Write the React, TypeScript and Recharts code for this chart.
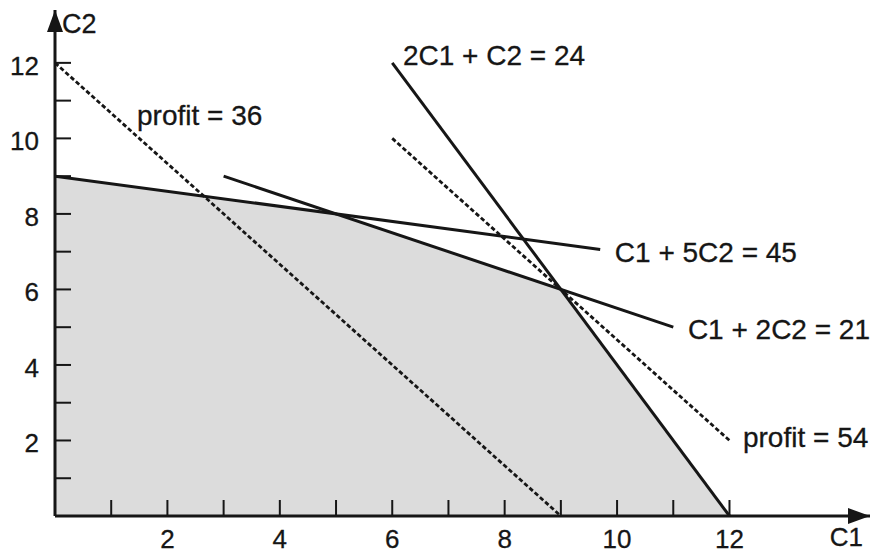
import React from 'react';
import { ComposedChart, Line, Area, XAxis, YAxis, ReferenceDot } from 'recharts';

// Feasible region upper boundary (C1, C2)
const feasibleRegion = [
  { c1: 0, c2: 9 },
  { c1: 5, c2: 8 },
  { c1: 9, c2: 6 },
  { c1: 12, c2: 0 },
];

// Constraint lines
const lineC1plus5C2 = [
  { c1: 0, c2: 9 },
  { c1: 9.7, c2: 7.06 },
];
const lineC1plus2C2 = [
  { c1: 3, c2: 9 },
  { c1: 11, c2: 5 },
];
const line2C1plusC2 = [
  { c1: 6, c2: 12 },
  { c1: 12, c2: 0 },
];

// Iso-profit lines
const profit36 = [
  { c1: 0, c2: 12 },
  { c1: 9, c2: 0 },
];
const profit54 = [
  { c1: 6, c2: 10 },
  { c1: 12, c2: 2 },
];

// Annotations (data coordinates of the left/middle of each text)
const annotations = [
  { text: '2C1 + C2 = 24', c1: 6.19, c2: 12.2 },
  { text: 'profit = 36', c1: 1.46, c2: 10.62 },
  { text: 'C1 + 5C2 = 45', c1: 9.96, c2: 6.99 },
  { text: 'C1 + 2C2 = 21', c1: 11.26, c2: 4.95 },
  { text: 'profit = 54', c1: 12.24, c2: 2.09 },
];

const xTicks = [1, 2, 3, 4, 5, 6, 7, 8, 9, 10, 11, 12];
const yTicks = [1, 2, 3, 4, 5, 6, 7, 8, 9, 10, 11, 12];

const INK = '#161616';
const FONT = '"Liberation Sans", Arial, Helvetica, sans-serif';

const XTick = (props: any) => {
  const { x, y, payload } = props;
  const v = payload.value;
  return (
    <g>
      <line x1={x} y1={y} x2={x} y2={y - 16} stroke={INK} strokeWidth={2} />
      {v % 2 === 0 && (
        <text x={x} y={y + 32} textAnchor="middle" fontSize={26} fontFamily={FONT} fill={INK} stroke={INK} strokeWidth={0.3}>
          {v}
        </text>
      )}
    </g>
  );
};

const YTick = (props: any) => {
  const { x, y, payload } = props;
  const v = payload.value;
  return (
    <g>
      <line x1={x} y1={y} x2={x + 16} y2={y} stroke={INK} strokeWidth={2} />
      {v % 2 === 0 && (
        <text x={x - 16} y={y + 12} textAnchor="end" fontSize={26} fontFamily={FONT} fill={INK} stroke={INK} strokeWidth={0.3}>
          {v}
        </text>
      )}
    </g>
  );
};

const AnnotationLabel = (text: string) => (props: any) => {
  const vb = props.viewBox || {};
  const cx = (vb.x ?? 0) + (vb.width ?? 0) / 2;
  const cy = (vb.y ?? 0) + (vb.height ?? 0) / 2;
  return (
    <text x={cx} y={cy + 10} textAnchor="start" fontSize={28} fontFamily={FONT} fill={INK} stroke={INK} strokeWidth={0.3}>
      {text}
    </text>
  );
};

const XAxisLabel = (props: any) => {
  const vb = props.viewBox || {};
  return (
    <text x={vb.x + vb.width - 7} y={vb.y + 30} textAnchor="end" fontSize={26} fontFamily={FONT} fill={INK} stroke={INK} strokeWidth={0.3}>
      C1
    </text>
  );
};

const YAxisLabel = (props: any) => {
  const vb = props.viewBox || {};
  return (
    <text x={vb.x + vb.width + 7} y={vb.y + 23} textAnchor="start" fontSize={27} fontFamily={FONT} fill={INK} stroke={INK} strokeWidth={0.3}>
      C2
    </text>
  );
};

export default function App() {
  return (
    <div style={{ position: 'absolute', left: 0, top: 0, width: 871, height: 554, background: '#fff' }}>
      <svg width={0} height={0} style={{ position: 'absolute' }}>
        <defs>
          <marker
            id="axisArrow"
            viewBox="0 0 22 16"
            refX="22"
            refY="8"
            markerWidth="22"
            markerHeight="16"
            markerUnits="userSpaceOnUse"
            orient="auto-start-reverse"
          >
            <path d="M0,0 L22,8 L0,16 Z" fill={INK} />
          </marker>
        </defs>
      </svg>
      <ComposedChart width={871} height={554} margin={{ top: 10, right: 1, left: 0, bottom: 0 }}>
        <XAxis
          type="number"
          dataKey="c1"
          domain={[0, 14.5]}
          ticks={xTicks}
          interval={0}
          allowDataOverflow
          height={38}
          tickSize={0}
          tickMargin={0}
          tickLine={false}
          tick={XTick}
          axisLine={{ stroke: INK, strokeWidth: 3, markerEnd: 'url(#axisArrow)' } as any}
          label={{ content: XAxisLabel } as any}
        />
        <YAxis
          type="number"
          dataKey="c2"
          domain={[0, 13.4]}
          ticks={yTicks}
          interval={0}
          allowDataOverflow
          width={55}
          tickSize={0}
          tickMargin={0}
          tickLine={false}
          tick={YTick}
          axisLine={{ stroke: INK, strokeWidth: 3, markerStart: 'url(#axisArrow)' } as any}
          label={{ content: YAxisLabel } as any}
        />
        <Area
          data={feasibleRegion}
          dataKey="c2"
          type="linear"
          fill="#dcdcdc"
          fillOpacity={1}
          stroke="none"
          isAnimationActive={false}
          activeDot={false}
        />
        <Line data={profit36} dataKey="c2" type="linear" stroke={INK} strokeWidth={2.8} strokeDasharray="4.5 2.5" dot={false} activeDot={false} isAnimationActive={false} />
        <Line data={profit54} dataKey="c2" type="linear" stroke={INK} strokeWidth={2.8} strokeDasharray="4.5 2.5" dot={false} activeDot={false} isAnimationActive={false} />
        <Line data={lineC1plus5C2} dataKey="c2" type="linear" stroke={INK} strokeWidth={3} dot={false} activeDot={false} isAnimationActive={false} />
        <Line data={lineC1plus2C2} dataKey="c2" type="linear" stroke={INK} strokeWidth={3} dot={false} activeDot={false} isAnimationActive={false} />
        <Line data={line2C1plusC2} dataKey="c2" type="linear" stroke={INK} strokeWidth={3} dot={false} activeDot={false} isAnimationActive={false} />
        {annotations.map((a) => (
          <ReferenceDot
            key={a.text}
            x={a.c1}
            y={a.c2}
            r={0}
            fill="none"
            stroke="none"
            ifOverflow="visible"
            label={{ content: AnnotationLabel(a.text) } as any}
          />
        ))}
      </ComposedChart>
    </div>
  );
}
